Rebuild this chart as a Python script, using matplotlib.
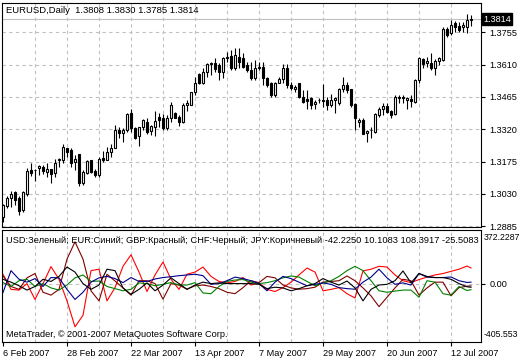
import numpy as np
import matplotlib
matplotlib.use("Agg")
import matplotlib.pyplot as plt
import matplotlib.transforms as mtransforms

plt.rcParams['font.family'] = ['Liberation Sans', 'DejaVu Sans']
plt.rcParams['font.size'] = 6.6

# EURUSD daily candles, one per business day from 6 Feb 2007
opens = [1.2925, 1.2975, 1.3012, 1.3038, 1.3014, 1.2957, 1.3032, 1.3136, 1.3136, 1.3145,
         1.3151, 1.3127, 1.3141, 1.3122, 1.3181, 1.3184, 1.3234, 1.3226, 1.3174, 1.3207,
         1.3079, 1.3126, 1.3181, 1.3132, 1.3114, 1.3193, 1.3184, 1.3216, 1.3238, 1.3319,
         1.3304, 1.3319, 1.3391, 1.3324, 1.3289, 1.3328, 1.3353, 1.3313, 1.3331, 1.3376,
         1.3369, 1.3324, 1.3369, 1.3391, 1.3376, 1.3351, 1.3428, 1.3431, 1.3485, 1.3566,
         1.3526, 1.3575, 1.3611, 1.3616, 1.3608, 1.3578, 1.3641, 1.3650, 1.3593, 1.3645,
         1.3638, 1.3608, 1.3585, 1.3548, 1.3593, 1.3600, 1.3548, 1.3526, 1.3473, 1.3528,
         1.3544, 1.3593, 1.3518, 1.3499, 1.3526, 1.3466, 1.3454, 1.3461, 1.3433, 1.3449,
         1.3451, 1.3451, 1.3428, 1.3451, 1.3439, 1.3499, 1.3518, 1.3499, 1.3433, 1.3353,
         1.3361, 1.3304, 1.3315, 1.3308, 1.3383, 1.3413, 1.3424, 1.3403, 1.3388, 1.3458,
         1.3466, 1.3451, 1.3454, 1.3443, 1.3541, 1.3634, 1.3616, 1.3618, 1.3593, 1.3627,
         1.3630, 1.3768, 1.3750, 1.3795, 1.3783, 1.3777, 1.3780, 1.3808]
highs = [1.2984, 1.3020, 1.3042, 1.3042, 1.3021, 1.3042, 1.3147, 1.3171, 1.3141, 1.3160,
         1.3162, 1.3167, 1.3144, 1.3189, 1.3192, 1.3256, 1.3237, 1.3234, 1.3204, 1.3211,
         1.3136, 1.3184, 1.3183, 1.3144, 1.3196, 1.3223, 1.3241, 1.3256, 1.3338, 1.3328,
         1.3324, 1.3391, 1.3409, 1.3331, 1.3331, 1.3364, 1.3369, 1.3338, 1.3403, 1.3391,
         1.3388, 1.3383, 1.3443, 1.3396, 1.3383, 1.3436, 1.3451, 1.3488, 1.3555, 1.3571,
         1.3593, 1.3616, 1.3620, 1.3638, 1.3616, 1.3645, 1.3665, 1.3675, 1.3683, 1.3683,
         1.3660, 1.3623, 1.3623, 1.3630, 1.3623, 1.3623, 1.3555, 1.3533, 1.3533, 1.3555,
         1.3612, 1.3612, 1.3533, 1.3518, 1.3527, 1.3496, 1.3496, 1.3466, 1.3451, 1.3458,
         1.3523, 1.3466, 1.3476, 1.3466, 1.3503, 1.3555, 1.3533, 1.3499, 1.3436, 1.3369,
         1.3369, 1.3319, 1.3328, 1.3391, 1.3421, 1.3436, 1.3436, 1.3406, 1.3473, 1.3473,
         1.3473, 1.3466, 1.3473, 1.3544, 1.3642, 1.3638, 1.3642, 1.3660, 1.3634, 1.3645,
         1.3780, 1.3780, 1.3810, 1.3807, 1.3802, 1.3802, 1.3837, 1.3830]
lows = [1.2903, 1.2966, 1.2970, 1.2979, 1.2934, 1.2949, 1.3020, 1.3111, 1.3088, 1.3114,
        1.3118, 1.3104, 1.3077, 1.3106, 1.3149, 1.3167, 1.3196, 1.3151, 1.3136, 1.3065,
        1.3069, 1.3118, 1.3123, 1.3106, 1.3106, 1.3174, 1.3181, 1.3196, 1.3234, 1.3279,
        1.3264, 1.3308, 1.3308, 1.3276, 1.3244, 1.3316, 1.3301, 1.3294, 1.3289, 1.3331,
        1.3316, 1.3316, 1.3351, 1.3369, 1.3335, 1.3346, 1.3401, 1.3428, 1.3473, 1.3521,
        1.3521, 1.3555, 1.3563, 1.3578, 1.3541, 1.3548, 1.3620, 1.3585, 1.3585, 1.3593,
        1.3593, 1.3578, 1.3541, 1.3541, 1.3585, 1.3518, 1.3510, 1.3466, 1.3466, 1.3526,
        1.3526, 1.3503, 1.3496, 1.3488, 1.3458, 1.3436, 1.3413, 1.3413, 1.3409, 1.3439,
        1.3421, 1.3406, 1.3421, 1.3391, 1.3428, 1.3488, 1.3484, 1.3421, 1.3316, 1.3331,
        1.3298, 1.3264, 1.3279, 1.3304, 1.3376, 1.3383, 1.3391, 1.3369, 1.3383, 1.3436,
        1.3436, 1.3413, 1.3421, 1.3436, 1.3526, 1.3593, 1.3600, 1.3585, 1.3563, 1.3608,
        1.3627, 1.3735, 1.3743, 1.3757, 1.3757, 1.3757, 1.3753, 1.3785]
closes = [1.2981, 1.3012, 1.3032, 1.3005, 1.2954, 1.3038, 1.3131, 1.3126, 1.3139, 1.3154,
          1.3132, 1.3141, 1.3118, 1.3167, 1.3189, 1.3241, 1.3219, 1.3169, 1.3189, 1.3077,
          1.3129, 1.3178, 1.3129, 1.3114, 1.3189, 1.3184, 1.3219, 1.3238, 1.3316, 1.3304,
          1.3316, 1.3388, 1.3324, 1.3283, 1.3328, 1.3361, 1.3308, 1.3334, 1.3358, 1.3361,
          1.3324, 1.3369, 1.3428, 1.3371, 1.3351, 1.3431, 1.3436, 1.3485, 1.3526, 1.3526,
          1.3575, 1.3611, 1.3618, 1.3590, 1.3578, 1.3638, 1.3645, 1.3593, 1.3653, 1.3623,
          1.3600, 1.3585, 1.3548, 1.3593, 1.3600, 1.3548, 1.3518, 1.3473, 1.3526, 1.3544,
          1.3593, 1.3518, 1.3503, 1.3510, 1.3466, 1.3443, 1.3448, 1.3428, 1.3443, 1.3451,
          1.3446, 1.3428, 1.3451, 1.3458, 1.3499, 1.3518, 1.3496, 1.3428, 1.3369, 1.3361,
          1.3301, 1.3313, 1.3316, 1.3388, 1.3413, 1.3424, 1.3398, 1.3383, 1.3466, 1.3466,
          1.3458, 1.3458, 1.3446, 1.3541, 1.3638, 1.3612, 1.3627, 1.3593, 1.3627, 1.3638,
          1.3768, 1.3743, 1.3787, 1.3780, 1.3765, 1.3787, 1.3810, 1.3814]

price_ticks = [1.2885, 1.3030, 1.3175, 1.3320, 1.3465, 1.3610, 1.3755]
last_price = 1.3814

date_labels = ["6 Feb 2007", "28 Feb 2007", "22 Mar 2007", "13 Apr 2007",
               "7 May 2007", "29 May 2007", "20 Jun 2007", "12 Jul 2007"]
date_bars = [0, 16, 32, 48, 64, 80, 96, 112]

# currency strength indicator, read every second bar
osc_bars = list(range(0, 117, 2)) + [117]
usd = [7, -20, 20, 30, -20, 0, -30, -45, -10, 40, 60, 15, 18, -20, -35, -50, -40, 5, 0, -15,
       -5, 7, -10, -10, 7, -65, -70, -20, 15, 25, 28, 10, 0, 7, 20, 40, 53, 45, 15, -15,
       5, 20, 50, 90, 120, 90, 20, -50, -60, -52, -45, -45, -95, 20, 10, -70, -80, -20, -48, -42.2]
eur = [-62, 90, 30, 10, 35, -20, 42, 40, -40, -110, -60, 10, 40, 50, 35, 7, 42, 15, 15, 32,
       42, 48, 55, 60, 65, 55, -5, 0, 20, 45, 35, 20, 0, -50, 10, 50, 35, 10, -15, -5,
       5, -5, -28, -35, -39, 10, 45, 100, 40, -5, 5, -10, 70, 45, 42, 42, 46, 20, 8, 10.1]
gbp = [65, -40, -45, 0, -110, 0, 118, 30, -120, -300, -220, 90, 100, -120, -28, 120, 200, 80, -55, 60,
       150, 30, -40, 65, 80, 115, 50, 15, 5, 15, 42, -10, 5, -40, -55, -28, 10, 60, 108, 80,
       -50, -40, -28, -70, -100, 88, 100, 120, 115, 60, 20, 7, 28, 45, 60, 70, 85, 100, 122, 108.4]
chf = [30, 10, -15, -45, -20, 30, 15, 50, 115, 80, 0, -40, -10, 100, 90, -30, -75, -40, 5, -50,
       -10, 40, 0, -40, -10, 10, 0, 5, 0, 0, 0, 0, -5, -35, -25, -30, -50, -35, -15, 0,
       35, 10, -10, 18, -30, -120, -40, -10, -5, 20, 88, 5, 70, 50, 42, 42, 30, 0, -22, -25.5]
jpy = [53, -20, -40, 40, 70, -60, -80, -40, 170, 290, 170, -50, -120, 65, 18, -30, -80, 20, 20, 0,
       -108, 0, -10, -39, -15, -10, -20, -35, -60, -70, -28, 20, 7, 50, 40, -10, -30, -39, -35, -25,
       10, 15, 20, 53, 20, -30, -85, -160, -95, -30, 30, 20, -80, -30, 10, 10, -85, -28, -18, -16]
osc_max = 372.2287
osc_min = -405.553

legend_text = ("USD:Зеленый; EUR:Синий; GBP:Красный; CHF:Черный; JPY:Коричневый "
               "-42.2250 10.1083 108.3917 -25.5083")


def draw_candles(ax, o, h, l, c):
    o, h, l, c = map(np.asarray, (o, h, l, c))
    x = np.arange(len(c))
    up = c >= o
    ax.vlines(x, l, h, color='black', lw=0.8, zorder=2)
    ax.bar(x[up], (c - o)[up], bottom=o[up], width=0.5, color='white',
           edgecolor='black', lw=0.8, zorder=3)
    ax.bar(x[~up], (c - o)[~up], bottom=o[~up], width=0.5, color='black',
           edgecolor='black', lw=0.8, zorder=3)


fig = plt.figure(figsize=(5.2, 3.6), dpi=100)
ax = fig.add_axes([2 / 520, 1 - 227 / 360, 479 / 520, 224 / 360])
ax2 = fig.add_axes([2 / 520, 1 - 342 / 360, 479 / 520, 112 / 360])

xlim = (-0.25, 119.5)
grid_style = dict(color='#c0c0c0', lw=0.8, ls=(0, (3, 3)), zorder=0)

# price panel
draw_candles(ax, opens, highs, lows, closes)
ax.set_xlim(*xlim)
ax.set_ylim(1.2882, 1.3886)
ax.set_xticks([])
ax.yaxis.tick_right()
ax.set_yticks(price_ticks)
ax.set_yticklabels([f"{p:.4f}" for p in price_ticks])
ax.tick_params(axis='y', length=3, width=0.8, pad=3)
for p in price_ticks:
    ax.axhline(p, **grid_style)
for b in range(8, 120, 8):
    ax.axvline(b, **grid_style)
ax.axhline(last_price, color='#c0c0c0', lw=0.8, zorder=1)
trans = mtransforms.blended_transform_factory(ax.transAxes, ax.transData)
ax.text(1.004, last_price, f"{last_price:.4f}", transform=trans, color='white',
        va='center', ha='left',
        bbox=dict(boxstyle='square,pad=0.15', fc='black', ec='black'))
ax.text(0.008, 0.985, f"EURUSD,Daily  {opens[-1]:.4f} {highs[-1]:.4f} {lows[-1]:.4f} {closes[-1]:.4f}",
        transform=ax.transAxes, va='top', ha='left', fontsize=6.8)

# indicator panel
for vals, col in [(gbp, '#ff0000'), (jpy, '#800000'), (usd, '#008000'),
                  (eur, '#00008b'), (chf, '#000000')]:
    ax2.plot(osc_bars, vals, color=col, lw=0.8)
ax2.axhline(0, **grid_style)
for b in range(8, 120, 8):
    ax2.axvline(b, **grid_style)
ax2.set_xlim(*xlim)
ax2.set_ylim(osc_min, osc_max)
ax2.yaxis.tick_right()
ax2.set_yticks([0])
ax2.set_yticklabels(["0.00"])
ax2.tick_params(axis='y', length=3, width=0.8, pad=3)
ax2.set_xticks(date_bars)
ax2.set_xticklabels(date_labels, ha='left')
ax2.tick_params(axis='x', length=3, width=0.8, pad=2)
ax2.text(1.005, 1 - 3 / 112, f"{osc_max:.4f}", transform=ax2.transAxes, va='top', ha='left',
         fontsize=6.3)
ax2.text(1.005, 3 / 112, f"{osc_min:.3f}", transform=ax2.transAxes, va='bottom', ha='left',
         fontsize=6.3)
ax2.text(0.008, 0.91, legend_text, transform=ax2.transAxes, va='center', ha='left', fontsize=6.7)
ax2.text(0.008, 0.07, "MetaTrader, © 2001-2007 MetaQuotes Software Corp.",
         transform=ax2.transAxes, va='center', ha='left')

for a in (ax, ax2):
    for s in a.spines.values():
        s.set_linewidth(0.8)
        s.set_color('black')

fig.savefig("out.png", dpi=100, facecolor='white')
